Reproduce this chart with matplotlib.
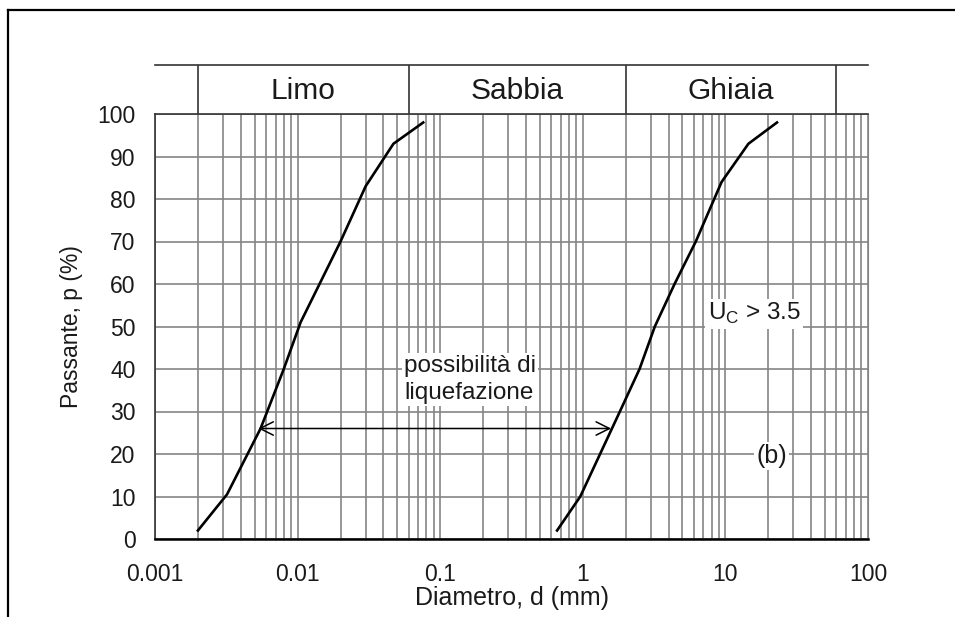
import numpy as np
import matplotlib.pyplot as plt
from matplotlib.lines import Line2D
from matplotlib.ticker import FixedLocator, LogLocator, NullFormatter

plt.rcParams['font.family'] = ['Liberation Sans', 'DejaVu Sans']
plt.rcParams['mathtext.fontset'] = 'custom'
plt.rcParams['mathtext.rm'] = 'Liberation Sans'

# curva granulometrica fine (sinistra)
d_fine = [0.002, 0.0032, 0.0055, 0.008, 0.0105, 0.02, 0.03, 0.047, 0.076]
p_fine = [2, 10.5, 26, 40, 51, 70, 83, 93, 98]

# curva granulometrica grossa (destra)
d_grossa = [0.66, 0.96, 1.82, 2.5, 3.2, 4.4, 6.2, 9.4, 14.5, 23]
p_grossa = [2, 10, 30, 40, 50, 60, 70, 84, 93, 98]

# classi granulometriche
classi = ['Limo', 'Sabbia', 'Ghiaia']
limiti = [0.002, 0.06, 2, 60]

x_ticks = [0.001, 0.01, 0.1, 1, 10, 100]
x_labels = ['0.001', '0.01', '0.1', '1', '10', '100']
y_ticks = list(range(0, 101, 10))

# freccia "possibilità di liquefazione"
freccia_p = 26
freccia_d = [0.0053, 1.58]

grigio = '#858585'
nero = '#1a1a1a'
W, H = 955, 617

fig = plt.figure(figsize=(W / 100, H / 100), dpi=100)

# cornice (solo sopra e a sinistra)
fig.add_artist(Line2D([8 / W, 1], [1 - 10 / H, 1 - 10 / H], color='black', lw=1.6))
fig.add_artist(Line2D([8 / W, 8 / W], [0, 1 - 10 / H], color='black', lw=1.6))

ax = fig.add_axes([155 / W, 78 / H, 713 / W, 425 / H])
ax.set_xscale('log')
ax.set_xlim(0.001, 100)
ax.set_ylim(0, 100)
ax.xaxis.set_major_locator(FixedLocator(x_ticks))
ax.set_xticklabels(x_labels)
ax.xaxis.set_minor_locator(LogLocator(base=10, subs=np.arange(2, 10)))
ax.xaxis.set_minor_formatter(NullFormatter())
ax.set_yticks(y_ticks)
ax.grid(which='both', axis='x', color=grigio, lw=1.2)
ax.grid(which='major', axis='y', color=grigio, lw=1.2)
ax.set_axisbelow(True)
ax.tick_params(which='both', length=0, labelsize=16.5, colors=nero)
ax.tick_params(axis='x', pad=17)
ax.tick_params(axis='y', pad=14)
for s in ['left', 'top']:
    ax.spines[s].set_color('#333333')
    ax.spines[s].set_linewidth(1.2)
ax.spines['right'].set_color(grigio)
ax.spines['bottom'].set_color('black')
ax.spines['bottom'].set_linewidth(1.8)

ax.plot(d_fine, p_fine, color='black', lw=1.9, zorder=3)
ax.plot(d_grossa, p_grossa, color='black', lw=1.9, zorder=3)

ax.annotate('', xy=(freccia_d[0], freccia_p), xytext=(freccia_d[1], freccia_p),
            arrowprops=dict(arrowstyle='<->', color='black', lw=1.1,
                            mutation_scale=24, shrinkA=0, shrinkB=0), zorder=4)

box = dict(facecolor='white', edgecolor='none', pad=1.5)
ax.text(0.056, 37.5, 'possibilità di\nliquefazione', fontsize=17.5, color=nero,
        ha='left', va='center', linespacing=1.3, bbox=box, zorder=4)
ax.text(7.5, 51.5, r'U$_\mathrm{C}$ > 3.5', fontsize=17.5, color=nero,
        ha='left', va='baseline', bbox=box, zorder=4)
ax.text(21, 19.5, '(b)', fontsize=18, color=nero, ha='center', va='center',
        bbox=box, zorder=4)

ax.set_xlabel('Diametro, d (mm)', fontsize=18, color=nero, labelpad=0)
ax.set_ylabel('Passante, p (%)', fontsize=16.5, color=nero, labelpad=10)

# intestazione con le classi
hax = fig.add_axes([155 / W, 503 / H, 713 / W, 49 / H])
hax.set_xscale('log')
hax.set_xlim(0.001, 100)
hax.set_ylim(0, 1)
hax.set_xticks([])
hax.set_yticks([])
hax.minorticks_off()
for s in ['left', 'right', 'bottom']:
    hax.spines[s].set_visible(False)
hax.spines['top'].set_color('#333333')
hax.spines['top'].set_linewidth(1.2)
hax.patch.set_alpha(0)
hax.vlines(limiti, 0, 1, color='#333333', lw=1.2)
for i, nome in enumerate(classi):
    xc = np.sqrt(limiti[i] * limiti[i + 1])
    hax.text(xc, 0.47, nome, fontsize=21.5, color=nero, ha='center', va='center')

fig.savefig('out.png', dpi=100)
